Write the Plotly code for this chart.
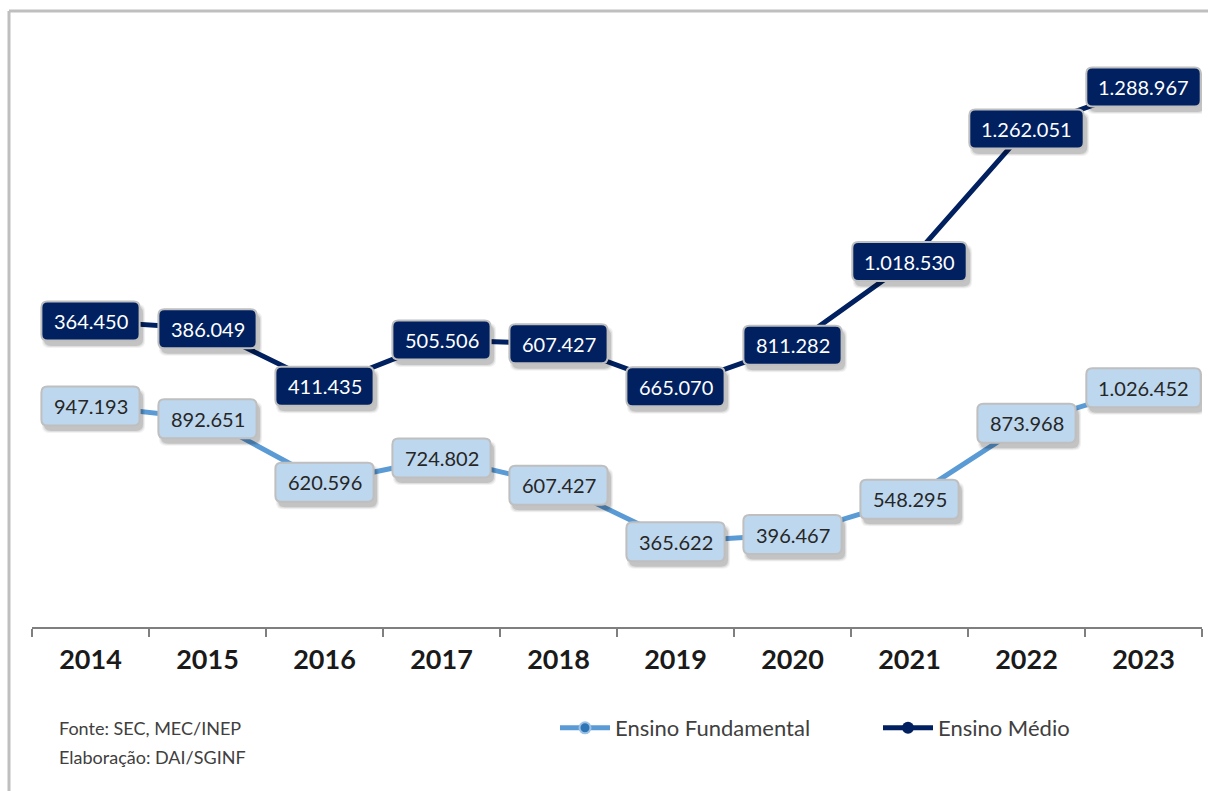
import plotly.graph_objects as go

# Matrículas por etapa de ensino
anos = ["2014", "2015", "2016", "2017", "2018", "2019", "2020", "2021", "2022", "2023"]
fundamental = [947193, 892651, 620596, 724802, 607427, 365622, 396467, 548295, 873968, 1026452]
medio = [364450, 386049, 411435, 505506, 607427, 665070, 811282, 1018530, 1262051, 1288967]

COR_FUND = "#5B9BD5"
COR_FUND_ROTULO = "#BDD7EE"
COR_MEDIO = "#002060"
FONTE = "Lato, 'Open Sans', sans-serif"

W, H = 1208, 791
ML, MR, MT, MB = 32, 6, 44, 164
PW = W - ML - MR
PH = H - MT - MB


def px(xp):
    return (xp - ML) / PW


def py(yp):
    return (H - MB - yp) / PH


def fmt(v):
    return f"{v:,}".replace(",", ".")


fig = go.Figure()

fig.add_trace(go.Scatter(
    x=anos, y=fundamental, name="Ensino Fundamental",
    stackgroup="um", fill="none", mode="lines+markers",
    line=dict(color=COR_FUND, width=5),
    marker=dict(size=11, color="#2E75B6", line=dict(color="#9CC3E6", width=2)),
    legend="legend",
))
fig.add_trace(go.Scatter(
    x=anos, y=medio, name="Ensino Médio",
    stackgroup="um", fill="none", mode="lines+markers",
    line=dict(color=COR_MEDIO, width=5),
    marker=dict(size=12, color=COR_MEDIO),
    legend="legend2",
))


def largura(texto):
    return 26 + sum(5 if c == "." else 11.2 for c in texto)


def caixa(w, h, r, dx=0.0, dy=0.0):
    """Retângulo de cantos arredondados, em pixels relativos à âncora."""
    x0, x1 = -w / 2 + dx, w / 2 + dx
    y0, y1 = -h / 2 + dy, h / 2 + dy
    return (
        f"M{x0 + r},{y0} L{x1 - r},{y0} Q{x1},{y0} {x1},{y0 + r} "
        f"L{x1},{y1 - r} Q{x1},{y1} {x1 - r},{y1} "
        f"L{x0 + r},{y1} Q{x0},{y1} {x0},{y1 - r} "
        f"L{x0},{y0 + r} Q{x0},{y0} {x0 + r},{y0} Z"
    )


def rotulo(i, yv, texto, fundo, cor_texto):
    w = largura(texto)
    h = 39
    base = dict(type="path", xref="x", yref="y", xsizemode="pixel", ysizemode="pixel",
                xanchor=i, yanchor=yv, layer="above")
    # sombra difusa
    for k, (exp, alfa) in enumerate([(5, 0.05), (3, 0.08), (1, 0.12)]):
        fig.add_shape(base, path=caixa(w + exp, h + exp, 7, 3, -5),
                      fillcolor=f"rgba(0,0,0,{alfa})", line=dict(width=0))
    fig.add_shape(base, path=caixa(w, h, 6), fillcolor=fundo,
                  line=dict(color="#BFBFBF", width=2))
    fig.add_annotation(
        x=i, y=yv, text=texto, showarrow=False,
        font=dict(family=FONTE, size=20, color=cor_texto),
    )


for i, (f, m) in enumerate(zip(fundamental, medio)):
    rotulo(i, f, fmt(f), COR_FUND_ROTULO, "#262626")
    rotulo(i, f + m, fmt(m), COR_MEDIO, "#FFFFFF")

# Fonte e elaboração
for texto, ypix in [("Fonte: SEC, MEC/INEP", 728), ("Elaboração: DAI/SGINF", 757)]:
    fig.add_annotation(
        xref="paper", yref="paper", x=px(57), y=py(ypix),
        xanchor="left", yanchor="middle", showarrow=False, text=texto,
        font=dict(family=FONTE, size=18, color="#404040"),
    )

# Moldura
moldura = dict(color="#BFBFBF", width=3)
fig.add_shape(type="line", xref="paper", yref="paper",
              x0=px(9), x1=px(1210), y0=py(11), y1=py(11), line=moldura)
fig.add_shape(type="line", xref="paper", yref="paper",
              x0=px(9), x1=px(9), y0=py(11), y1=py(795), line=moldura)

legenda = dict(
    orientation="h", yanchor="middle", xanchor="left", y=py(728),
    font=dict(family=FONTE, size=22, color="#404040"),
    itemwidth=50, bgcolor="rgba(0,0,0,0)",
)

fig.update_layout(
    width=W, height=H,
    margin=dict(l=ML, r=MR, t=MT, b=MB, autoexpand=False),
    paper_bgcolor="white", plot_bgcolor="white",
    separators=",.",
    showlegend=True,
    legend=dict(legenda, x=px(555)),
    legend2=dict(legenda, x=px(878)),
    xaxis=dict(
        type="category", range=[-0.5, 9.5], tickson="boundaries",
        showline=True, linecolor="#7F7F7F", linewidth=2,
        ticks="outside", ticklen=8, tickwidth=2, tickcolor="#7F7F7F",
        showgrid=False, zeroline=False,
        tickfont=dict(family=FONTE, size=27, color="#1A1A1A", weight="bold"),
        ticklabelstandoff=8,
    ),
    yaxis=dict(
        range=[0, 2500000], visible=False, showgrid=False, zeroline=False,
    ),
    hovermode=False,
)

fig.write_html("out.html")
